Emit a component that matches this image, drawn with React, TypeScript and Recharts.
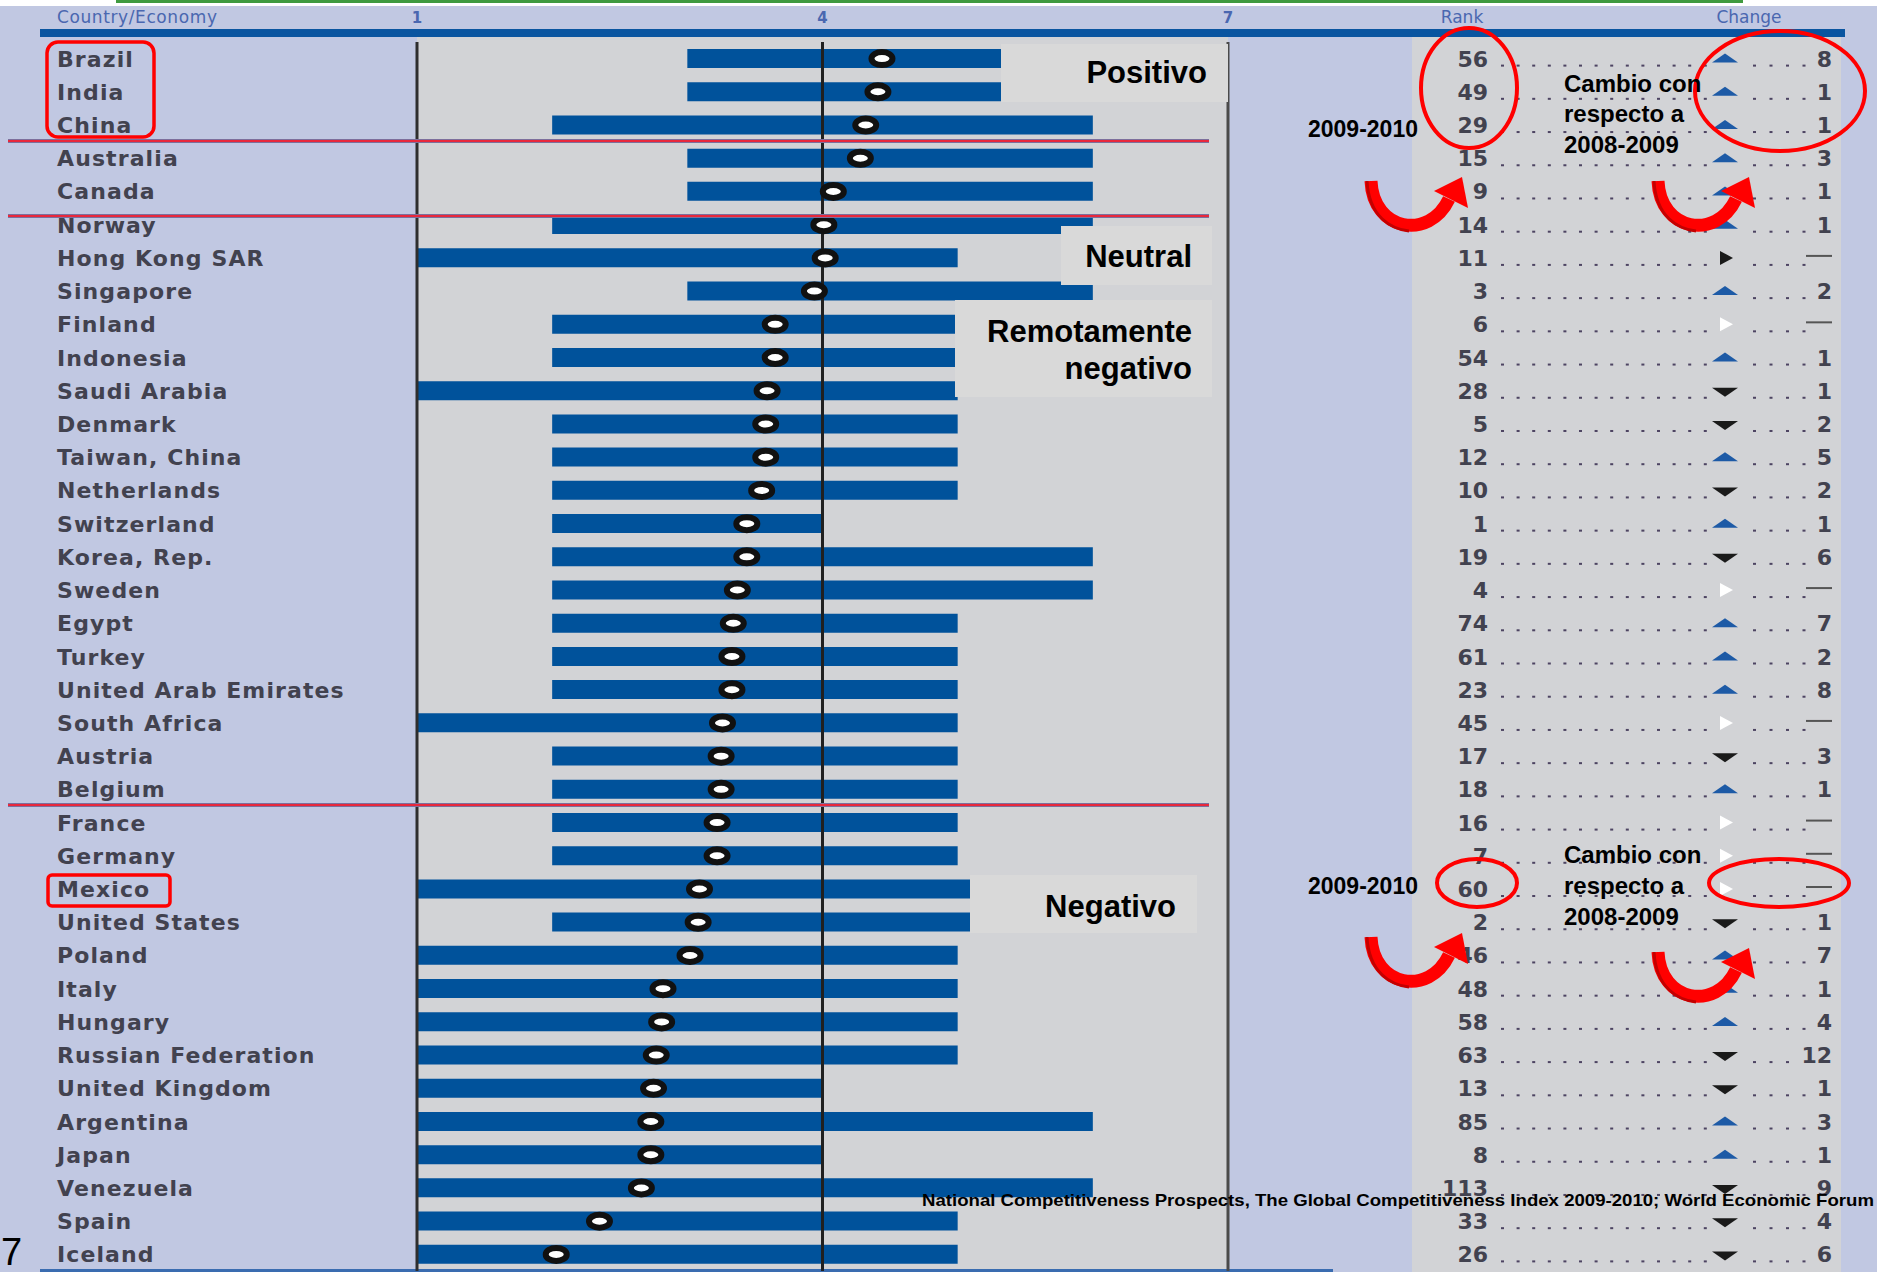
import React from 'react';
import { ComposedChart, Bar, Line, XAxis, YAxis, ReferenceLine } from 'recharts';

const countries = [
  'Brazil', 'India', 'China', 'Australia', 'Canada', 'Norway', 'Hong Kong SAR', 'Singapore',
  'Finland', 'Indonesia', 'Saudi Arabia', 'Denmark', 'Taiwan, China', 'Netherlands', 'Switzerland',
  'Korea, Rep.', 'Sweden', 'Egypt', 'Turkey', 'United Arab Emirates', 'South Africa', 'Austria',
  'Belgium', 'France', 'Germany', 'Mexico', 'United States', 'Poland', 'Italy', 'Hungary',
  'Russian Federation', 'United Kingdom', 'Argentina', 'Japan', 'Venezuela', 'Spain', 'Iceland',
];
const lows = [3, 3, 2, 3, 3, 2, 1, 3, 2, 2, 1, 2, 2, 2, 2, 2, 2, 2, 2, 2, 1, 2, 2, 2, 2, 1, 2, 1, 1, 1, 1, 1, 1, 1, 1, 1, 1];
const highs = [6, 6, 6, 6, 6, 6, 5, 6, 5, 5, 5, 5, 5, 5, 4, 6, 6, 5, 5, 5, 5, 5, 5, 5, 5, 6, 6, 5, 5, 5, 5, 4, 6, 4, 6, 5, 5];
const scores = [
  4.44, 4.41, 4.32, 4.28, 4.08, 4.01, 4.02, 3.94, 3.65, 3.65, 3.59, 3.58, 3.58, 3.55, 3.44,
  3.44, 3.37, 3.34, 3.33, 3.33, 3.26, 3.25, 3.25, 3.22, 3.22, 3.09, 3.08, 3.02, 2.82, 2.81,
  2.77, 2.75, 2.73, 2.73, 2.66, 2.35, 2.03,
];
const ranks = [56, 49, 29, 15, 9, 14, 11, 3, 6, 54, 28, 5, 12, 10, 1, 19, 4, 74, 61, 23, 45, 17, 18, 16, 7, 60, 2, 46, 48, 58, 63, 13, 85, 8, 113, 33, 26];
const changes = [8, 1, 1, 3, 1, 1, 0, 2, 0, 1, 1, 2, 5, 2, 1, 6, 0, 7, 2, 8, 0, 3, 1, 0, 0, 0, 1, 7, 1, 4, 12, 1, 3, 1, 9, 4, 6];
// up / down / same (white marker) / sameDark (black marker)
const trends = [
  'up', 'up', 'up', 'up', 'up', 'up', 'sameDark', 'up', 'same', 'up', 'down', 'down', 'up', 'down', 'up',
  'down', 'same', 'up', 'up', 'up', 'same', 'down', 'up', 'same', 'same', 'same', 'down', 'up', 'up', 'up',
  'down', 'down', 'up', 'up', 'down', 'down', 'down',
];
const axisTicks = [1, 4, 7];

const data = countries.map((country, i) => ({
  country,
  range: [lows[i], highs[i]],
  score: scores[i],
  rank: ranks[i],
  change: changes[i],
  trend: trends[i],
}));
const byCountry: Record<string, any> = {};
data.forEach((d) => { byCountry[d.country] = d; });

const W = 1877;
const H = 1272;
const LAV = '#c1c8e2';
const GRAY = '#d2d3d6';
const BOX = '#d9d9d9';
const BLUE = '#00529b';
const LABEL = '#42424f';
const HEAD = '#4a67b0';
const SANS = 'DejaVu Sans, sans-serif';
const ARIAL = 'Liberation Sans, Arial, sans-serif';

const XTick = ({ x, payload }: any) => (
  <text x={x} y={23} textAnchor="middle" fontFamily={SANS} fontWeight="bold" fontSize={15} fill={HEAD}>
    {payload.value}
  </text>
);

const CountryTick = ({ y, payload }: any) => (
  <text x={57} y={y} dy={8} fontFamily={SANS} fontWeight="bold" fontSize={22} letterSpacing={1.1} fill={LABEL}>
    {payload.value}
  </text>
);

const RankTick = ({ y, payload }: any) => {
  const d = byCountry[payload.value];
  if (!d) return null;
  const leaders = [];
  for (let i = 0; i < 14; i++) {
    leaders.push(<rect key={'a' + i} x={1501 + i * 15.6} y={y + 6} width={3} height={2} fill="#4d4462" />);
  }
  const tail = d.change >= 10 ? 3 : 4;
  for (let i = 0; i < tail; i++) {
    leaders.push(<rect key={'b' + i} x={1753 + i * 16.5} y={y + 6} width={3} height={2} fill="#4d4462" />);
  }
  let marker;
  if (d.trend === 'up') {
    marker = <polygon points={`${1712},${y + 4} ${1738},${y + 4} ${1725},${y - 5}`} fill="#1d5aa6" />;
  } else if (d.trend === 'down') {
    marker = <polygon points={`${1712},${y - 3} ${1738},${y - 3} ${1725},${y + 6}`} fill="#1a1a1a" />;
  } else {
    marker = (
      <polygon
        points={`${1720},${y - 7} ${1720},${y + 7} ${1733},${y}`}
        fill={d.trend === 'sameDark' ? '#1a1a1a' : '#ffffff'}
      />
    );
  }
  const isSame = d.trend === 'same' || d.trend === 'sameDark';
  return (
    <g>
      <text x={1488} y={y} dy={8} textAnchor="end" fontFamily={SANS} fontWeight="bold" fontSize={22} fill={LABEL}>
        {d.rank}
      </text>
      {leaders}
      {marker}
      {isSame ? (
        <line x1={1806} x2={1832} y1={y - 2} y2={y - 2} stroke="#555" strokeWidth={2} />
      ) : (
        <text x={1832} y={y} dy={8} textAnchor="end" fontFamily={SANS} fontWeight="bold" fontSize={22} fill={LABEL}>
          {d.change}
        </text>
      )}
    </g>
  );
};

const ScoreDot = (props: any) => {
  const { cx, cy, index } = props;
  if (cx == null || cy == null) return <g key={index} />;
  return <ellipse key={index} cx={cx} cy={cy} rx={10.5} ry={6.5} fill="#ffffff" stroke="#111111" strokeWidth={6} />;
};

const Arrow = ({ x0, y0 }: { x0: number; y0: number }) => (
  <g>
    <path
      d={`M ${x0 + 10} ${y0 + 4} C ${x0 + 12} ${y0 + 54}, ${x0 + 68} ${y0 + 64}, ${x0 + 88} ${y0 + 22}`}
      fill="none"
      stroke="#ff0000"
      strokeWidth={13}
    />
    <path
      d={`M ${x0 + 6} ${y0 + 4} C ${x0 + 8} ${y0 + 40}, ${x0 + 30} ${y0 + 52}, ${x0 + 48} ${y0 + 54}`}
      fill="none"
      stroke="#c40000"
      strokeWidth={3}
    />
    <polygon
      points={`${x0 + 101},${y0 + 0} ${x0 + 73},${y0 + 14} ${x0 + 107},${y0 + 31}`}
      fill="#ff0000"
    />
  </g>
);

const Overlay = () => (
  <svg width={W} height={H} style={{ position: 'absolute', left: 0, top: 0, pointerEvents: 'none' }}>
    {/* header */}
    <text x={57} y={23} fontFamily={SANS} fontSize={17} letterSpacing={0.6} fill={HEAD}>Country/Economy</text>
    <text x={1462} y={23} textAnchor="middle" fontFamily={SANS} fontSize={17} fill={HEAD}>Rank</text>
    <text x={1749} y={23} textAnchor="middle" fontFamily={SANS} fontSize={17} fill={HEAD}>Change</text>

    {/* separators */}
    {[141, 216, 805].map((yy) => (
      <g key={yy}>
        <line x1={8} x2={1209} y1={yy} y2={yy} stroke="#7d6f9c" strokeWidth={4} />
        <line x1={8} x2={1209} y1={yy} y2={yy} stroke="#e8283c" strokeWidth={2} />
      </g>
    ))}

    {/* category boxes */}
    <rect x={1001} y={44} width={227} height={58} fill={BOX} />
    <text x={1207} y={83} textAnchor="end" fontFamily={ARIAL} fontWeight="bold" fontSize={31} fill="#000">Positivo</text>
    <rect x={1061} y={226} width={151} height={59} fill={BOX} />
    <text x={1192} y={267} textAnchor="end" fontFamily={ARIAL} fontWeight="bold" fontSize={31} fill="#000">Neutral</text>
    <rect x={955} y={300} width={257} height={97} fill={BOX} />
    <text x={1192} y={342} textAnchor="end" fontFamily={ARIAL} fontWeight="bold" fontSize={31} fill="#000">Remotamente</text>
    <text x={1192} y={379} textAnchor="end" fontFamily={ARIAL} fontWeight="bold" fontSize={31} fill="#000">negativo</text>
    <rect x={970} y={875} width={227} height={58} fill={BOX} />
    <text x={1176} y={917} textAnchor="end" fontFamily={ARIAL} fontWeight="bold" fontSize={31} fill="#000">Negativo</text>

    {/* highlights */}
    <rect x={47} y={42} width={107} height={95} rx={11} fill="none" stroke="#ff0000" strokeWidth={3.5} />
    <rect x={48} y={875} width={122} height={31} rx={4} fill="none" stroke="#ff0000" strokeWidth={3.5} />
    <ellipse cx={1469} cy={88} rx={48} ry={60} fill="none" stroke="#ff0000" strokeWidth={4} />
    <ellipse cx={1780} cy={91} rx={85} ry={60} fill="none" stroke="#ff0000" strokeWidth={4} />
    <ellipse cx={1477} cy={883} rx={40} ry={24} fill="none" stroke="#ff0000" strokeWidth={4} />
    <ellipse cx={1779} cy={883} rx={70} ry={24} fill="none" stroke="#ff0000" strokeWidth={4} />

    {/* notes */}
    <text x={1418} y={137} textAnchor="end" fontFamily={ARIAL} fontWeight="bold" fontSize={23} fill="#000">2009-2010</text>
    <text x={1564} y={92} fontFamily={ARIAL} fontWeight="bold" fontSize={24} fill="#000">Cambio con</text>
    <text x={1564} y={122} fontFamily={ARIAL} fontWeight="bold" fontSize={24} fill="#000">respecto a</text>
    <text x={1564} y={153} fontFamily={ARIAL} fontWeight="bold" fontSize={24} fill="#000">2008-2009</text>
    <text x={1418} y={894} textAnchor="end" fontFamily={ARIAL} fontWeight="bold" fontSize={23} fill="#000">2009-2010</text>
    <text x={1564} y={863} fontFamily={ARIAL} fontWeight="bold" fontSize={24} fill="#000">Cambio con</text>
    <text x={1564} y={894} fontFamily={ARIAL} fontWeight="bold" fontSize={24} fill="#000">respecto a</text>
    <text x={1564} y={925} fontFamily={ARIAL} fontWeight="bold" fontSize={24} fill="#000">2008-2009</text>

    <Arrow x0={1361} y0={177} />
    <Arrow x0={1648} y0={177} />
    <Arrow x0={1361} y0={933} />
    <Arrow x0={1648} y0={948} />

    {/* footer */}
    <text x={922} y={1206} fontFamily={ARIAL} fontWeight="bold" fontSize={17} textLength={952} lengthAdjust="spacingAndGlyphs" fill="#000">
      National Competitiveness Prospects, The Global Competitiveness Index 2009-2010; World Economic Forum
    </text>
    <text x={1} y={1265} fontFamily={ARIAL} fontSize={38} fill="#000">7</text>
  </svg>
);

export default function App() {
  return (
    <div style={{ position: 'absolute', left: 0, top: 0, width: W, height: H, background: LAV, overflow: 'hidden' }}>
      {/* page decoration */}
      <div style={{ position: 'absolute', left: 0, top: 0, width: W, height: 6, background: '#ffffff' }} />
      <div style={{ position: 'absolute', left: 116, top: 0, width: 1627, height: 3, background: '#3f9a3f' }} />
      <div style={{ position: 'absolute', left: 40, top: 29, width: 1805, height: 8, background: '#0a55a0' }} />
      <div style={{ position: 'absolute', left: 417, top: 37, width: 811, height: H - 37, background: GRAY }} />
      <div style={{ position: 'absolute', left: 1412, top: 37, width: 429, height: H - 37, background: GRAY }} />
      <div style={{ position: 'absolute', left: 40, top: H - 3, width: 1293, height: 3, background: '#3a6cb0' }} />

      <div style={{ position: 'absolute', left: 0, top: 0 }}>
        <ComposedChart
          width={W}
          height={H}
          data={data}
          layout="vertical"
          margin={{ top: 0, right: 0, bottom: 1, left: 0 }}
        >
          <XAxis
            type="number"
            orientation="top"
            domain={[1, 7]}
            ticks={axisTicks}
            height={42}
            axisLine={false}
            tickLine={false}
            tick={<XTick />}
            allowDataOverflow
          />
          <YAxis
            type="category"
            dataKey="country"
            width={417}
            axisLine={false}
            tickLine={false}
            interval={0}
            tick={<CountryTick />}
          />
          <YAxis
            yAxisId="right"
            orientation="right"
            type="category"
            dataKey="country"
            width={649}
            axisLine={false}
            tickLine={false}
            interval={0}
            tick={<RankTick />}
          />
          <Bar dataKey="range" fill={BLUE} barSize={19} isAnimationActive={false} />
          <ReferenceLine x={1} stroke="#2e2e2e" strokeWidth={3} />
          <ReferenceLine x={4} stroke="#202020" strokeWidth={3} />
          <ReferenceLine x={7} stroke="#4a4a4a" strokeWidth={3} />
          <Line
            dataKey="score"
            stroke="none"
            dot={ScoreDot}
            activeDot={false}
            isAnimationActive={false}
          />
        </ComposedChart>
      </div>
      <Overlay />
    </div>
  );
}
